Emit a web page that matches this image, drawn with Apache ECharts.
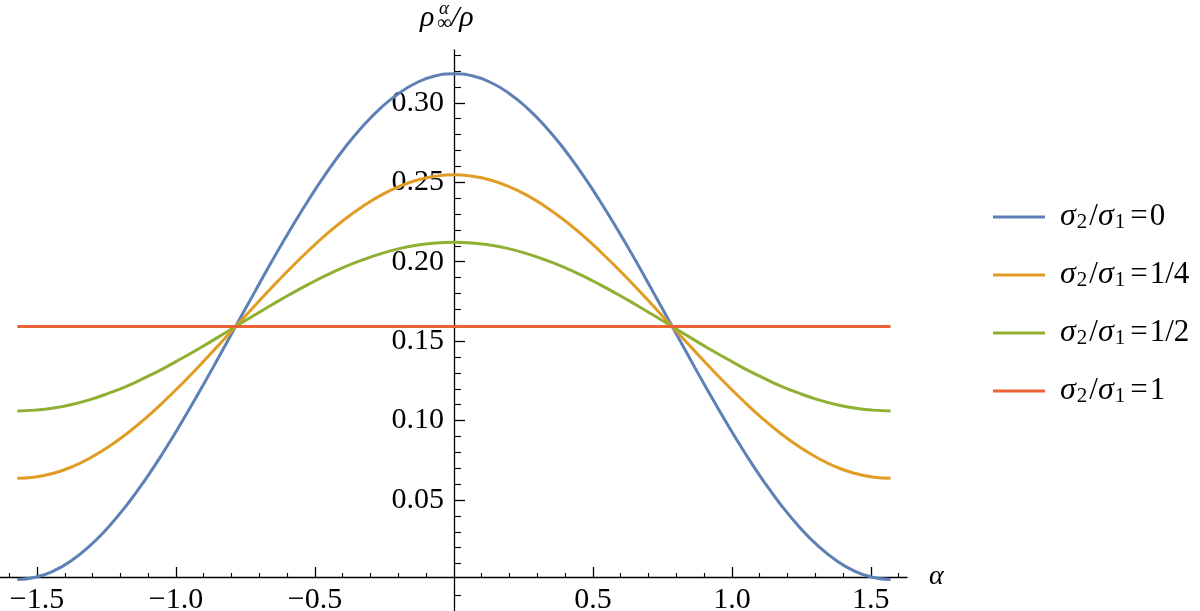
<!DOCTYPE html>
<html>
<head>
<meta charset="utf-8">
<script src="https://cdn.jsdelivr.net/npm/echarts@6/dist/echarts.min.js"></script>
<style>
    html, body { margin: 0; padding: 0; background: #fff; }
    #myChart { width: 1200px; height: 611px; }
</style>
</head>
<body>
<div id="myChart"></div>
<script>
// angle samples (rad)
const alpha = [-1.5708, -1.5053, -1.4399, -1.3744, -1.3090, -1.2435, -1.1781, -1.1126, -1.0472, -0.9817,
    -0.9163, -0.8508, -0.7854, -0.7199, -0.6545, -0.5890, -0.5236, -0.4581, -0.3927, -0.3272,
    -0.2618, -0.1963, -0.1309, -0.0654, 0,
    0.0654, 0.1309, 0.1963, 0.2618, 0.3272, 0.3927, 0.4581, 0.5236, 0.5890, 0.6545,
    0.7199, 0.7854, 0.8508, 0.9163, 0.9817, 1.0472, 1.1126, 1.1781, 1.2435, 1.3090,
    1.3744, 1.4399, 1.5053, 1.5708]
// rho_inf^alpha / rho, one list per sigma2/sigma1
const ratio0 = [0, 0.0014, 0.0054, 0.0121, 0.0213, 0.0329, 0.0466, 0.0623, 0.0796, 0.0983,
    0.1180, 0.1384, 0.1592, 0.1799, 0.2004, 0.2201, 0.2387, 0.2560, 0.2717, 0.2854,
    0.2970, 0.3062, 0.3129, 0.3170, 0.3183,
    0.3170, 0.3129, 0.3062, 0.2970, 0.2854, 0.2717, 0.2560, 0.2387, 0.2201, 0.2004,
    0.1799, 0.1592, 0.1384, 0.1180, 0.0983, 0.0796, 0.0623, 0.0466, 0.0329, 0.0213,
    0.0121, 0.0054, 0.0014, 0]
const ratioQuarter = [0.0637, 0.0645, 0.0669, 0.0709, 0.0765, 0.0834, 0.0916, 0.1010, 0.1114, 0.1226,
    0.1344, 0.1467, 0.1592, 0.1716, 0.1839, 0.1957, 0.2069, 0.2173, 0.2267, 0.2349,
    0.2419, 0.2474, 0.2514, 0.2538, 0.2547,
    0.2538, 0.2514, 0.2474, 0.2419, 0.2349, 0.2267, 0.2173, 0.2069, 0.1957, 0.1839,
    0.1716, 0.1592, 0.1467, 0.1344, 0.1226, 0.1114, 0.1010, 0.0916, 0.0834, 0.0765,
    0.0709, 0.0669, 0.0645, 0.0637]
const ratioHalf = [0.1061, 0.1066, 0.1079, 0.1101, 0.1132, 0.1171, 0.1216, 0.1269, 0.1326, 0.1389,
    0.1454, 0.1522, 0.1592, 0.1661, 0.1729, 0.1795, 0.1857, 0.1915, 0.1967, 0.2012,
    0.2051, 0.2082, 0.2104, 0.2118, 0.2122,
    0.2118, 0.2104, 0.2082, 0.2051, 0.2012, 0.1967, 0.1915, 0.1857, 0.1795, 0.1729,
    0.1661, 0.1592, 0.1522, 0.1454, 0.1389, 0.1326, 0.1269, 0.1216, 0.1171, 0.1132,
    0.1101, 0.1079, 0.1066, 0.1061]
const alphaFlat = [-1.5708, 1.5708]
const ratioOne = [0.1592, 0.1592]

const legendValues = ['0', '1/4', '1/2', '1']
const seriesNames = legendValues.map(v => 'σ2/σ1=' + v)

// tick labels
const xMajor = [-1.5, -1.0, -0.5, 0.5, 1.0, 1.5]
const xMinor = [-1.6, -1.4, -1.3, -1.2, -1.1, -0.9, -0.8, -0.7, -0.6, -0.4, -0.3, -0.2, -0.1,
    0.1, 0.2, 0.3, 0.4, 0.6, 0.7, 0.8, 0.9, 1.1, 1.2, 1.3, 1.4, 1.6]
const yMajor = [0.05, 0.10, 0.15, 0.20, 0.25, 0.30]
const yMinor = [-0.01, 0.01, 0.02, 0.03, 0.04, 0.06, 0.07, 0.08, 0.09, 0.11, 0.12, 0.13, 0.14,
    0.16, 0.17, 0.18, 0.19, 0.21, 0.22, 0.23, 0.24, 0.26, 0.27, 0.28, 0.29, 0.31, 0.32, 0.33]

const colors = ['#5E81B5', '#E19C24', '#8FB032', '#EB6235']
const serif = 'Liberation Serif'

function pairs (xs, ys) {
    return xs.map((x, i) => [x, ys[i]])
}

const xRange = {min: -1.633, max: 1.63}
const yRange = {min: -0.0198, max: 0.3332}

let myChart = echarts.init(document.getElementById('myChart'))
myChart.setOption({
    animation: false,
    color: colors,
    grid: {left: 0, right: 293, top: 50, bottom: 0, containLabel: false, outerBoundsMode: 'none'},
    legend: {
        orient: 'vertical',
        left: 993,
        top: 201,
        padding: 0,
        itemWidth: 52,
        itemHeight: 3,
        itemGap: 26,
        icon: 'rect',
        data: seriesNames,
        formatter: function (name) {
            let v = legendValues[seriesNames.indexOf(name)]
            return '{i|σ}{s|2}{n|/}{i|σ}{s|1}{e|=}{n|' + v + '}'
        },
        textStyle: {
            padding: [0, 0, 0, 10],
            rich: {
                i: {fontFamily: serif, fontStyle: 'italic', fontSize: 32, lineHeight: 32, padding: [0, 1, 0, 0], color: '#000'},
                n: {fontFamily: serif, fontSize: 31, lineHeight: 32, color: '#000'},
                e: {fontFamily: serif, fontSize: 31, lineHeight: 32, padding: [0, 2, 0, 3], color: '#000'},
                s: {fontFamily: serif, fontSize: 21, lineHeight: 13, verticalAlign: 'bottom', padding: [0, 2, 0, 0], color: '#000'}
            }
        }
    },
    xAxis: [
        {
            type: 'value',
            min: xRange.min,
            max: xRange.max,
            position: 'bottom',
            offset: -34,
            name: 'α',
            nameLocation: 'end',
            nameGap: 22,
            nameTextStyle: {fontFamily: serif, fontStyle: 'italic', fontSize: 28, color: '#000'},
            axisLine: {onZero: false, lineStyle: {color: '#000', width: 1.3}},
            axisTick: {show: true, inside: true, length: 10, customValues: xMajor, lineStyle: {color: '#000', width: 1.3}},
            axisLabel: {
                customValues: xMajor,
                margin: 8,
                fontFamily: serif,
                fontSize: 30,
                color: '#000',
                formatter: v => v.toFixed(1).replace('-', '\u2212')
            },
            splitLine: {show: false}
        },
        {
            type: 'value',
            min: xRange.min,
            max: xRange.max,
            position: 'bottom',
            offset: -34,
            axisLine: {show: false, onZero: false},
            axisTick: {show: true, inside: true, length: 4, customValues: xMinor, lineStyle: {color: '#000', width: 1.1}},
            axisLabel: {show: false},
            splitLine: {show: false}
        }
    ],
    yAxis: [
        {
            type: 'value',
            min: yRange.min,
            max: yRange.max,
            position: 'left',
            offset: -454,
            axisLine: {onZero: false, lineStyle: {color: '#000', width: 1.3}},
            axisTick: {show: true, inside: true, length: 11, customValues: yMajor, lineStyle: {color: '#000', width: 1.3}},
            axisLabel: {
                customValues: yMajor,
                margin: 10,
                fontFamily: serif,
                fontSize: 30,
                color: '#000',
                formatter: v => v.toFixed(2)
            },
            splitLine: {show: false}
        },
        {
            type: 'value',
            min: yRange.min,
            max: yRange.max,
            position: 'left',
            offset: -454,
            axisLine: {show: false, onZero: false},
            axisTick: {show: true, inside: true, length: 7, customValues: yMinor, lineStyle: {color: '#000', width: 1.1}},
            axisLabel: {show: false},
            splitLine: {show: false}
        }
    ],
    // y axis title: rho^alpha_inf / rho
    graphic: [
        {type: 'text', left: 420, top: 3, style: {text: 'ρ', font: 'italic 30px "Liberation Serif"', fill: '#000'}},
        {type: 'text', left: 439, top: -1, style: {text: 'α', font: 'italic 19px "Liberation Serif"', fill: '#000'}},
        {type: 'text', left: 437, top: 14, style: {text: '∞', font: '20px "Liberation Serif"', fill: '#000'}},
        {type: 'text', left: 451, top: 3, style: {text: '/ρ', font: 'italic 30px "Liberation Serif"', fill: '#000'}}
    ],
    series: [
        {name: seriesNames[0], type: 'line', data: pairs(alpha, ratio0)},
        {name: seriesNames[1], type: 'line', data: pairs(alpha, ratioQuarter)},
        {name: seriesNames[2], type: 'line', data: pairs(alpha, ratioHalf)},
        {name: seriesNames[3], type: 'line', data: pairs(alphaFlat, ratioOne)}
    ].map(s => Object.assign(s, {
        xAxisIndex: 0,
        yAxisIndex: 0,
        showSymbol: false,
        smooth: true,
        lineStyle: {width: 3},
        emphasis: {disabled: true}
    }))
})
</script>
</body>
</html>
